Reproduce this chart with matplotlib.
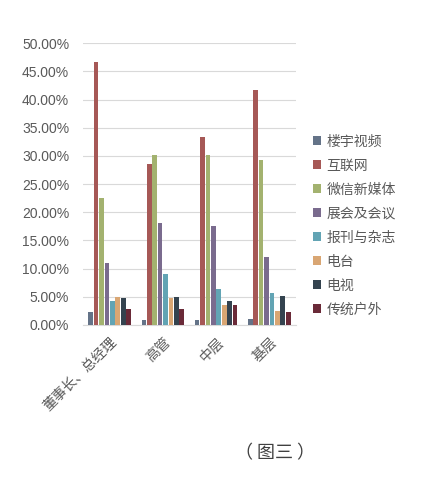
import numpy as np
import matplotlib
matplotlib.use("Agg")
import matplotlib.pyplot as plt
from matplotlib.ticker import FuncFormatter

plt.rcParams['font.family'] = ['Noto Sans CJK SC', 'DejaVu Sans']

# media channel share by job level (%)
groups = ["董事长、总经理", "高管", "中层", "基层"]
series = ["楼宇视频", "互联网", "微信新媒体", "展会及会议", "报刊与杂志", "电台", "电视", "传统户外"]
lobby_video = [2.3, 0.9, 0.9, 1.1]
internet = [46.6, 28.5, 33.3, 41.7]
wechat = [22.6, 30.2, 30.2, 29.2]
expo = [11.0, 18.0, 17.5, 12.0]
press = [4.3, 9.1, 6.4, 5.7]
radio = [5.0, 4.7, 3.5, 2.5]
tv = [4.7, 5.0, 4.3, 5.2]
outdoor = [2.9, 2.9, 3.5, 2.2]
values = [lobby_video, internet, wechat, expo, press, radio, tv, outdoor]
colors = ["#647388", "#A65856", "#A3B26F", "#7A6B8E", "#62A4B4", "#D9A673", "#34434F", "#6A2A38"]

fig = plt.figure(figsize=(4.37, 4.87), dpi=100)
ax = fig.add_axes([0.19, 0.333, 0.487, 0.578])

x = np.arange(len(groups))
step = 0.102
width = 0.088
for k, (vals, c) in enumerate(zip(values, colors)):
    ax.bar(x + (k - 3.5) * step, vals, width, color=c, label=series[k], zorder=3)

ax.set_xlim(-0.5, len(groups) - 0.5)
ax.set_ylim(0, 50)
ax.set_yticks(np.arange(0, 50.1, 5))
ax.yaxis.set_major_formatter(FuncFormatter(lambda v, p: "%.2f%%" % v))
ax.grid(axis="y", color="#D9D9D9", lw=0.8, zorder=0)
for s in ["top", "right", "left"]:
    ax.spines[s].set_visible(False)
ax.spines["bottom"].set_color("#D9D9D9")
ax.tick_params(axis="both", length=0, colors="#595959")
ax.tick_params(axis="y", pad=10)
ax.tick_params(axis="x", pad=7)
for t in ax.get_yticklabels():
    t.set_fontfamily(["Liberation Sans", "DejaVu Sans"])
    t.set_fontsize(10)
ax.set_xticks(x)
ax.set_xticklabels(groups, rotation=45, ha="right", rotation_mode="anchor", fontsize=10)

ax.legend(loc="upper left", bbox_to_anchor=(1.02, 0.72), frameon=False, fontsize=10,
          handlelength=0.6, handleheight=0.6, handletextpad=0.4, labelspacing=0.72,
          labelcolor="#595959")

fig.text(0.63, 0.07, "（ 图三 ）", ha="center", va="center", fontsize=13, color="#404040")

plt.savefig("out.png", dpi=100, facecolor="white")
